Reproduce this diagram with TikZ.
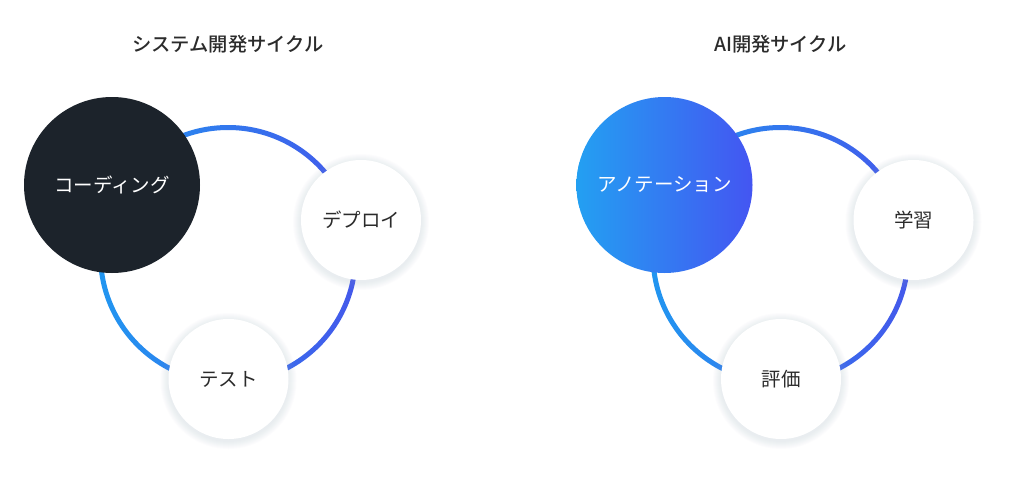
\documentclass[tikz,border=0pt]{standalone}
\usepackage{fontspec}
\newfontfamily\jp{Noto Sans CJK JP}
\newfontfamily\jpb{Noto Sans CJK JP Medium}
\definecolor{ringA}{HTML}{2196F0}
\definecolor{ringB}{HTML}{4458EB}
\definecolor{dark}{HTML}{1C232B}
\definecolor{txt}{HTML}{2B2B2B}
\definecolor{shc}{HTML}{9AA6C8}
\definecolor{gradA}{HTML}{23A0F2}
\definecolor{gradB}{HTML}{4455F2}
\begin{document}
\begin{tikzpicture}[x=1pt,y=-1pt,
  title/.style={font=\jpb\fontsize{19.3}{21}\selectfont, text=txt},
  bigc/.style={circle, minimum size=176pt, inner sep=0pt, font=\jp\fontsize{19.5}{21}\selectfont, text=white},
  gradfill/.style={path picture={\shade[left color=gradA, right color=gradB]
     ([xshift=-1pt,yshift=-1pt]path picture bounding box.south west) rectangle
     ([xshift=1pt,yshift=1pt]path picture bounding box.north east);}},
  smallc/.style={circle, fill=white, minimum size=120pt, inner sep=0pt, font=\jp\fontsize{19.5}{21}\selectfont, text=txt},
  ring/.style={left color=ringA, right color=ringB, even odd rule}]
\useasboundingbox[fill=white] (0,0) rectangle (1009,477);

\foreach \ox/\tt/\bb/\aa/\cc/\grad in {0/{システム開発サイクル}/{コーディング}/{デプロイ}/{テスト}/0, 552.5/{AI開発サイクル}/{アノテーション}/{学習}/{評価}/1}{
  \begin{scope}[xshift=\ox pt]
  \node[title] (t\grad) at (228,44) {\tt};
  \coordinate (rc\grad) at (228,255);
  \shade[ring] (rc\grad) circle (130) (rc\grad) circle (125);
  \coordinate (pa\grad) at (361,220);
  \coordinate (pb\grad) at (228.5,379);
  \coordinate (pc\grad) at (112,185);
  \foreach \r in {61,62,...,68}{
    \fill[shc, opacity=0.025] ([yshift=-2pt]pa\grad) circle (\r);
    \fill[shc, opacity=0.025] ([yshift=-2pt]pb\grad) circle (\r);
  }
  \ifnum\grad=0
    \node[bigc, fill=dark] (big\grad) at (pc\grad) {\bb};
  \else
    \node[bigc, gradfill] (big\grad) at (pc\grad) {\bb};
    \draw[gradA, line width=1.2pt] (pc\grad) ++(165:87.4) arc[start angle=165, end angle=195, radius=87.4];
  \fi
  \node[smallc] (sa\grad) at (pa\grad) {\aa};
  \node[smallc] (sb\grad) at (pb\grad) {\cc};
  \end{scope}
}
\end{tikzpicture}
\end{document}
